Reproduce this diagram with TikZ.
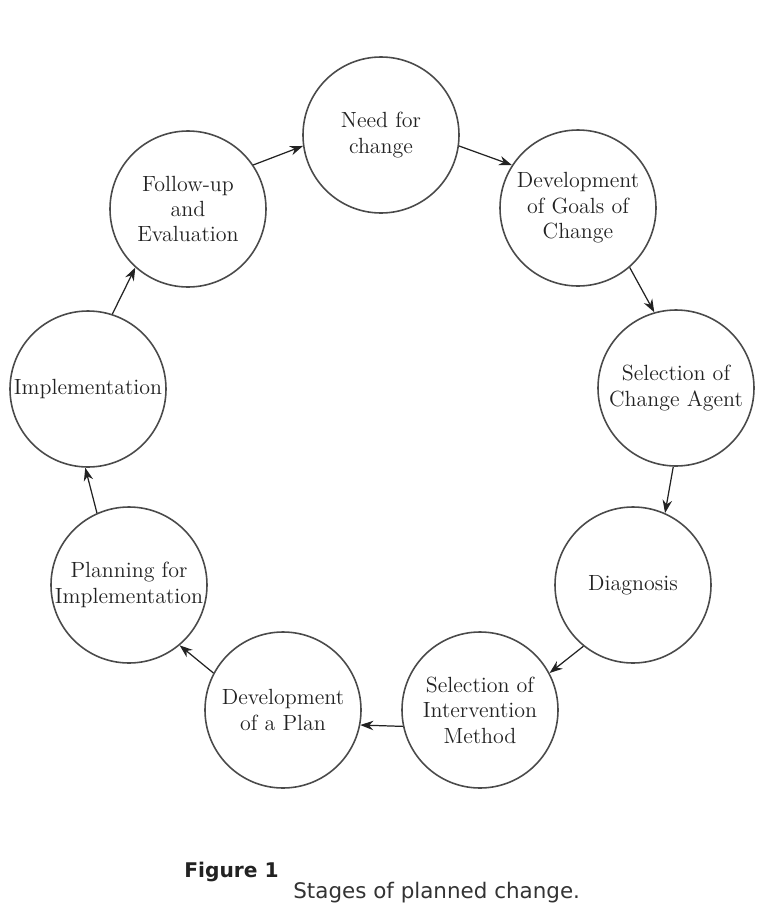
\documentclass[tikz,border=0pt]{standalone}
\usepackage{fontspec}
\usepackage{tikz}
\usetikzlibrary{arrows.meta}
\newfontfamily\capfont{DejaVu Sans}
\definecolor{ringgray}{HTML}{4A4A4A}
\definecolor{inkgray}{HTML}{222222}
\definecolor{capgray}{HTML}{333333}
\tikzset{
  stage/.style={ draw=ringgray, line width=0.9pt, circle, minimum size=3.12cm, inner sep=0pt,
    align=center, text=inkgray, font=\fontsize{12.5}{14.5}\selectfont }
}
\tikzset{
  arr/.style={ draw=inkgray, line width=0.7pt, -{Stealth[length=2.6mm, width=1.9mm]} }
}

\begin{document}
\begin{tikzpicture}[y=1cm, x=1cm]
      \useasboundingbox (0, 0) rectangle (15.36, -18.44);
      \node[stage] (need) at (7.62, -2.70) {Need for\\change};
      \node[stage] (goals) at (11.56, -4.16) {Development\\of Goals of\\Change};
      \node[stage] (agent) at (13.52, -7.76) {Selection of\\Change Agent};
      \node[stage] (diag) at (12.66, -11.70) {Diagnosis};
      \node[stage] (method) at (9.60, -14.20) {Selection of\\Intervention\\Method};
      \node[stage] (plan) at (5.66, -14.20) {Development\\of a Plan};
      \node[stage] (planimpl) at (2.58, -11.70) {Planning for\\Implementation};
      \node[stage] (impl) at (1.76, -7.78) {Implementation};
      \node[stage] (follow) at (3.76, -4.18) {Follow-up\\and\\Evaluation};

      \draw[arr] (follow.34) -- (need.188);
      \draw[arr] (need.352) -- (goals.147);
      \draw[arr] (goals.311) -- (agent.106);
      \draw[arr] (agent.268) -- (diag.66);

      \draw[arr] (diag.231) -- (method.28);
      \draw[arr] (method.192) -- (plan.349);
      \draw[arr] (plan.152) -- (planimpl.310);
      \draw[arr] (planimpl.114) -- (impl.268);
      \draw[arr] (impl.72) -- (follow.228);

      \node[anchor=base west, inner sep=0pt, text=inkgray, font=\capfont\bfseries\fontsize{11.5}{13}\selectfont] (figno) at (3.68, -17.54) {Figure 1};
      \node[anchor=base west, inner sep=0pt, text=capgray, font=\capfont\fontsize{12.2}{14}\selectfont] (figcap) at (5.86, -17.96) {Stages of planned change.};
    \end{tikzpicture}
\end{document}
